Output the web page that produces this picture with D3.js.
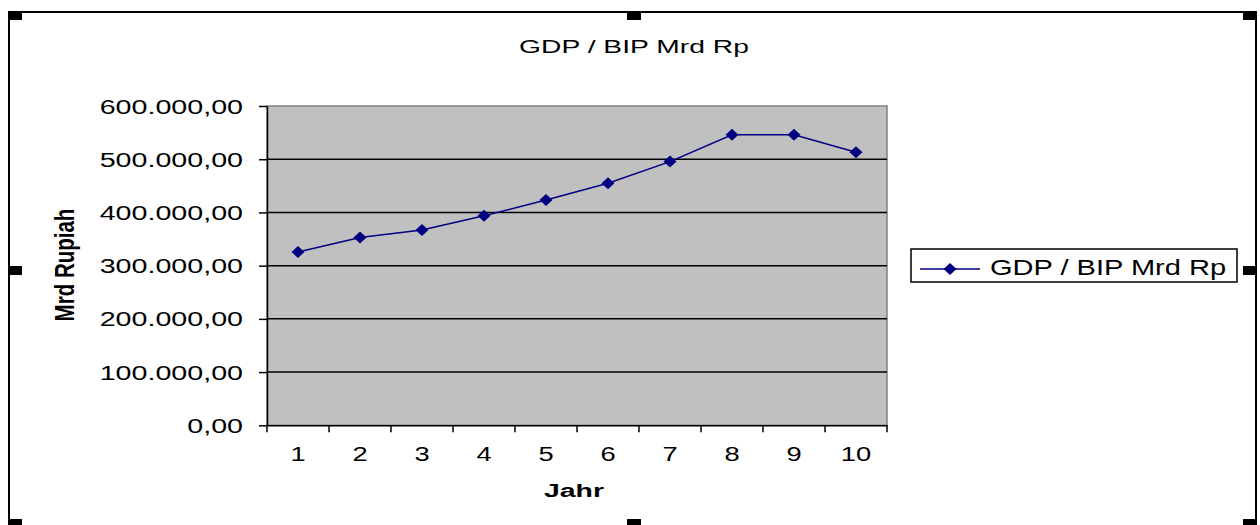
<!DOCTYPE html>
<html>
<head>
<meta charset="utf-8">
<script src="https://cdn.jsdelivr.net/npm/d3@7"></script>
<style>
  html, body { margin: 0; padding: 0; background: #fff; }
  svg { display: block; }
  text { font-family: "Liberation Sans", Arial, sans-serif; fill: #000; }
</style>
</head>
<body>
<svg id="chart" width="1260" height="525"></svg>
<script>
// GDP series (billion Rupiah) by year index
const years = ["1", "2", "3", "4", "5", "6", "7", "8", "9", "10"];
const gdp = [325700, 352800, 367200, 393600, 423200, 454700, 495500, 545800, 545800, 513200];
const yTicks = [0, 100000, 200000, 300000, 400000, 500000, 600000];
const title = "GDP / BIP Mrd Rp";
const seriesName = "GDP / BIP Mrd Rp";
const xTitle = "Jahr";
const yTitle = "Mrd Rupiah";

const plot = { left: 267, right: 887, top: 106, bottom: 425.3 };
const navy = "#000080";

const svg = d3.select("#chart");

// German number format: 600.000,00
const de = d3.formatLocale({ decimal: ",", thousands: ".", grouping: [3], currency: ["", ""] });
const fmt = de.format(",.2f");

// horizontal text widening about the text's own anchor x
function widen(sel, sx) {
  sel.each(function () {
    const t = d3.select(this);
    const x = +t.attr("x") || 0;
    t.attr("transform", `translate(${x},0) scale(${sx},1) translate(${-x},0)`);
  });
}

// Chart frame
svg.append("rect")
  .attr("x", 9).attr("y", 12).attr("width", 1247).attr("height", 520)
  .attr("fill", "#fff").attr("stroke", "#000").attr("stroke-width", 2);

const x = d3.scaleBand().domain(years).range([plot.left, plot.right]).padding(0);
const y = d3.scaleLinear().domain([0, 600000]).range([plot.bottom, plot.top]);

// Plot area
svg.append("rect")
  .attr("x", plot.left).attr("y", plot.top)
  .attr("width", plot.right - plot.left).attr("height", plot.bottom - plot.top)
  .attr("fill", "#c0c0c0").attr("stroke", "#808080").attr("stroke-width", 1.5);

// Gridlines
svg.append("g").selectAll("line").data(yTicks.slice(1, -1)).join("line")
  .attr("x1", plot.left).attr("x2", plot.right)
  .attr("y1", d => y(d)).attr("y2", d => y(d))
  .attr("stroke", "#000").attr("stroke-width", 1.5);

// Y axis
const yAxis = svg.append("g")
  .attr("transform", `translate(${plot.left},0)`)
  .call(d3.axisLeft(y).tickValues(yTicks).tickFormat(fmt).tickSizeInner(8).tickSizeOuter(0).tickPadding(16));
yAxis.select(".domain").attr("stroke", "#000").attr("stroke-width", 1.5);
yAxis.selectAll(".tick line").attr("stroke", "#000").attr("stroke-width", 1.5);
yAxis.selectAll(".tick text")
  .attr("font-family", "'Liberation Sans', Arial, sans-serif")
  .attr("font-size", 19.5).attr("fill", "#111").attr("dy", "0.36em")
  .call(widen, 1.47);

// X axis: labels at category centres, ticks on category boundaries
const xAxis = svg.append("g")
  .attr("transform", `translate(0,${plot.bottom})`)
  .call(d3.axisBottom(x).tickSize(0).tickPadding(21));
xAxis.select(".domain").attr("stroke", "#000").attr("stroke-width", 1.5);
xAxis.selectAll(".tick text")
  .attr("font-family", "'Liberation Sans', Arial, sans-serif")
  .attr("font-size", 21).attr("fill", "#111")
  .call(widen, 1.3);
const bounds = years.map(d => x(d)).concat([x(years[years.length - 1]) + x.bandwidth()]);
xAxis.append("g").selectAll("line").data(bounds).join("line")
  .attr("x1", d => d).attr("x2", d => d)
  .attr("y1", 0).attr("y2", 7)
  .attr("stroke", "#000").attr("stroke-width", 1.5);

// Series line and diamond markers
const line = d3.line().x((d, i) => x(years[i]) + x.bandwidth() / 2).y(d => y(d));
svg.append("path").datum(gdp)
  .attr("d", line).attr("fill", "none")
  .attr("stroke", navy).attr("stroke-width", 1.5);

const diamond = (cx, cy) => `M${cx - 6.5},${cy}L${cx},${cy - 6}L${cx + 6.5},${cy}L${cx},${cy + 6}Z`;
svg.append("g").selectAll("path").data(gdp).join("path")
  .attr("d", (d, i) => diamond(x(years[i]) + x.bandwidth() / 2, y(d)))
  .attr("fill", navy);

// Title
svg.append("text")
  .attr("x", 634).attr("y", 53)
  .attr("text-anchor", "middle").attr("font-size", 18).attr("fill", "#111")
  .text(title)
  .call(widen, 1.57);

// Axis titles
svg.append("text")
  .attr("x", 574).attr("y", 497)
  .attr("text-anchor", "middle").attr("font-size", 18).attr("font-weight", "bold")
  .text(xTitle)
  .call(widen, 1.58);

svg.append("text")
  .attr("transform", "translate(65,265) rotate(-90) scale(1.14,1.5)")
  .attr("text-anchor", "middle").attr("dy", "0.35em")
  .attr("font-size", 18).attr("font-weight", "bold")
  .text(yTitle);

// Legend
const lg = svg.append("g");
lg.append("rect")
  .attr("x", 911).attr("y", 249).attr("width", 326).attr("height", 33)
  .attr("fill", "#fff").attr("stroke", "#000").attr("stroke-width", 1.5);
lg.append("line")
  .attr("x1", 920).attr("x2", 980).attr("y1", 269).attr("y2", 269)
  .attr("stroke", navy).attr("stroke-width", 1.5);
lg.append("path").attr("d", diamond(950, 269)).attr("fill", navy);
lg.append("text")
  .attr("x", 990).attr("y", 275)
  .attr("font-size", 22).attr("fill", "#111")
  .text(seriesName)
  .call(widen, 1.32);

// Selection handles around the chart frame
const hx = [8, 627, 1243], hy = [11, 266, 519];
const handles = [];
hy.forEach((yy, r) => hx.forEach((xx, c) => { if (!(r === 1 && c === 1)) handles.push([xx, yy]); }));
svg.append("g").selectAll("rect").data(handles).join("rect")
  .attr("x", d => d[0]).attr("y", d => d[1])
  .attr("width", 14).attr("height", 9)
  .attr("fill", "#000");
</script>
</body>
</html>
